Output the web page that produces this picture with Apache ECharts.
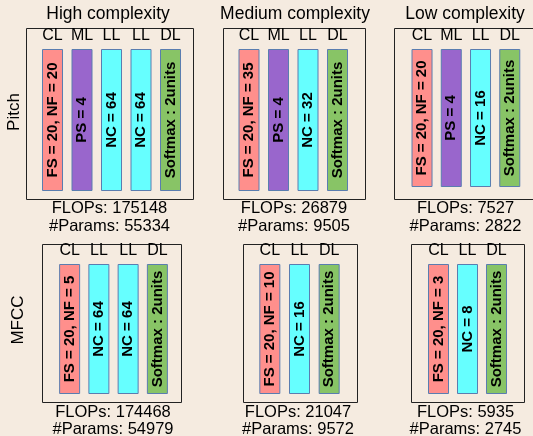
<!DOCTYPE html>
<html>
<head>
<meta charset="utf-8">
<script src="https://cdn.jsdelivr.net/npm/echarts@6/dist/echarts.min.js"></script>
<style>
html,body{margin:0;padding:0;background:#f5ebe0;}
#c{width:533px;height:436px;}
</style>
</head>
<body>
<div id="c"></div>
<script>
// ---- data ----
const rowNames = ['Pitch', 'MFCC'];
const complexityNames = ['High complexity', 'Medium complexity', 'Low complexity'];

const pitchHighLayers = ['CL', 'ML', 'LL', 'LL', 'DL'];
const pitchHighText = ['FS = 20, NF = 20', 'PS = 4', 'NC = 64', 'NC = 64', 'Softmax : 2units'];
const pitchMedLayers = ['CL', 'ML', 'LL', 'DL'];
const pitchMedText = ['FS = 20, NF = 35', 'PS = 4', 'NC = 32', 'Softmax : 2units'];
const pitchLowLayers = ['CL', 'ML', 'LL', 'DL'];
const pitchLowText = ['FS = 20, NF = 20', 'PS = 4', 'NC = 16', 'Softmax : 2units'];

const mfccHighLayers = ['CL', 'LL', 'LL', 'DL'];
const mfccHighText = ['FS = 20, NF = 5', 'NC = 64', 'NC = 64', 'Softmax : 2units'];
const mfccMedLayers = ['CL', 'LL', 'DL'];
const mfccMedText = ['FS = 20, NF = 10', 'NC = 16', 'Softmax : 2units'];
const mfccLowLayers = ['CL', 'LL', 'DL'];
const mfccLowText = ['FS = 20, NF = 3', 'NC = 8', 'Softmax : 2units'];

// every layer block is drawn full height
const pitchHighValues = [1, 1, 1, 1, 1];
const pitchMedValues = [1, 1, 1, 1];
const pitchLowValues = [1, 1, 1, 1];
const mfccHighValues = [1, 1, 1, 1];
const mfccMedValues = [1, 1, 1];
const mfccLowValues = [1, 1, 1];

const pitchFlops = [175148, 26879, 7527];
const pitchParams = [55334, 9505, 2822];
const mfccFlops = [174468, 21047, 5935];
const mfccParams = [54979, 9572, 2745];

// ---- styles / layout ----
const layerColors = { CL: '#ff8f8c', ML: '#9966cc', LL: '#66ffff', DL: '#88c466' };
const barBorder = '#5a7db0';
const FONT = '"Liberation Sans", Arial, sans-serif';

const panels = [
  { layers: pitchHighLayers, text: pitchHighText, values: pitchHighValues,
    grid: { left: 37.75, top: 49, width: 147.5, height: 142 }, box: [26, 28, 167, 171],
    info: { x: 109.5, y1: 208, y2: 226 }, flops: pitchFlops[0], params: pitchParams[0] },
  { layers: pitchMedLayers, text: pitchMedText, values: pitchMedValues,
    grid: { left: 234.25, top: 49, width: 118, height: 142 }, box: [223, 28, 142, 171],
    info: { x: 294, y1: 208, y2: 226 }, flops: pitchFlops[1], params: pitchParams[1] },
  { layers: pitchLowLayers, text: pitchLowText, values: pitchLowValues,
    grid: { left: 407.4, top: 49, width: 117, height: 138 }, box: [394, 28, 142, 171],
    info: { x: 465.5, y1: 208, y2: 226 }, flops: pitchFlops[2], params: pitchParams[2] },
  { layers: mfccHighLayers, text: mfccHighText, values: mfccHighValues,
    grid: { left: 55, top: 264, width: 117, height: 130 }, box: [42, 244, 139, 158],
    info: { x: 113, y1: 412, y2: 429 }, flops: mfccFlops[0], params: mfccParams[0] },
  { layers: mfccMedLayers, text: mfccMedText, values: mfccMedValues,
    grid: { left: 255, top: 264, width: 89, height: 130 }, box: [243, 244, 114, 158],
    info: { x: 298, y1: 412, y2: 429 }, flops: mfccFlops[1], params: mfccParams[1] },
  { layers: mfccLowLayers, text: mfccLowText, values: mfccLowValues,
    grid: { left: 424, top: 264, width: 87, height: 130 }, box: [411, 244, 113, 158],
    info: { x: 465.5, y1: 412, y2: 429 }, flops: mfccFlops[2], params: mfccParams[2] }
];
const titleX = [108, 295, 465];
const rowLabelPos = [{ x: 14, y: 112 }, { x: 18, y: 320 }];

const grids = [], xAxes = [], yAxes = [], series = [], graphics = [];

panels.forEach((p, i) => {
  grids.push(Object.assign({ containLabel: false }, p.grid));
  xAxes.push({
    type: 'category', gridIndex: i, position: 'top', data: p.layers,
    axisLine: { show: false }, axisTick: { show: false }, splitLine: { show: false },
    axisLabel: { interval: 0, margin: 5, color: '#000', fontSize: 16, fontFamily: FONT }
  });
  yAxes.push({ type: 'value', gridIndex: i, min: 0, max: 1, show: false, splitLine: { show: false } });
  series.push({
    type: 'bar', xAxisIndex: i, yAxisIndex: i, barWidth: 21, silent: true,
    data: p.values.map((v, k) => ({
      value: v,
      itemStyle: { color: layerColors[p.layers[k]], borderColor: barBorder, borderWidth: 1 },
      label: { formatter: p.text[k] }
    })),
    label: {
      show: true, position: 'inside', rotate: 90, align: 'center', verticalAlign: 'middle',
      color: '#000', fontWeight: 'bold', fontSize: 15, fontFamily: FONT
    },
    animation: false
  });
  graphics.push({
    type: 'rect', z: -1, silent: true,
    shape: { x: p.box[0] + 0.5, y: p.box[1] + 0.5, width: p.box[2], height: p.box[3] },
    style: { fill: 'none', stroke: '#222', lineWidth: 1 }
  });
  graphics.push({
    type: 'text', silent: true, x: p.info.x, y: p.info.y1,
    style: { text: 'FLOPs: ' + p.flops, align: 'center', verticalAlign: 'middle',
      font: '16.5px ' + FONT, fill: '#000' }
  });
  graphics.push({
    type: 'text', silent: true, x: p.info.x, y: p.info.y2,
    style: { text: '#Params: ' + p.params, align: 'center', verticalAlign: 'middle',
      font: '16.5px ' + FONT, fill: '#000' }
  });
});

complexityNames.forEach((t, i) => {
  graphics.push({
    type: 'text', silent: true, x: titleX[i], y: 14,
    style: { text: t, align: 'center', verticalAlign: 'middle', font: '17.5px ' + FONT, fill: '#000' }
  });
});
rowNames.forEach((t, i) => {
  graphics.push({
    type: 'text', silent: true, x: rowLabelPos[i].x, y: rowLabelPos[i].y, rotation: Math.PI / 2,
    style: { text: t, align: 'center', verticalAlign: 'middle', font: '17px ' + FONT, fill: '#000' }
  });
});

const chart = echarts.init(document.getElementById('c'), null, { renderer: 'canvas' });
chart.setOption({
  backgroundColor: '#f5ebe0',
  animation: false,
  grid: grids, xAxis: xAxes, yAxis: yAxes, series: series, graphic: graphics
});
</script>
</body>
</html>
